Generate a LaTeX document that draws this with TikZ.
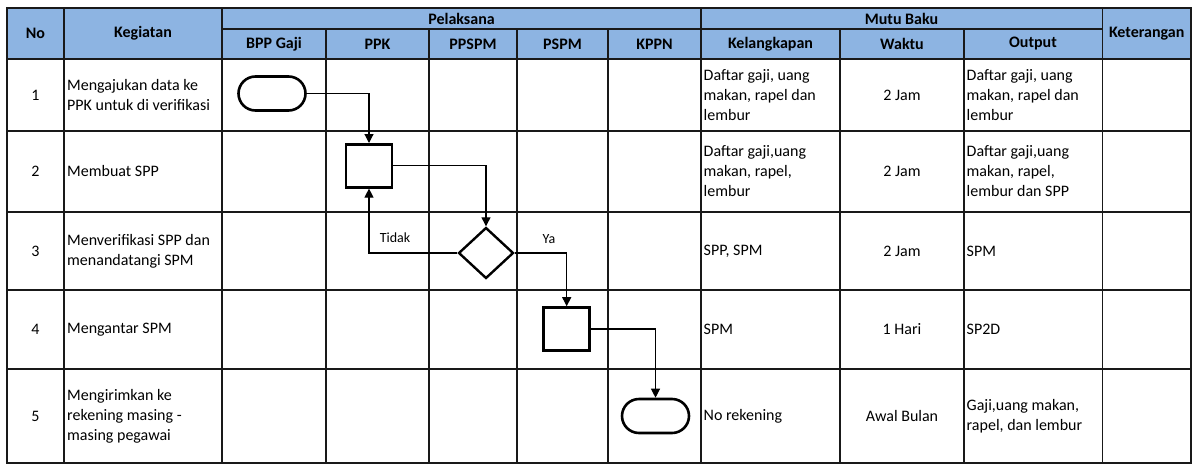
\documentclass[tikz,border=0pt]{standalone}
\usepackage{fontspec}
\setmainfont{Carlito}
\usetikzlibrary{shapes.geometric,arrows.meta}
\definecolor{hdrblue}{RGB}{141,180,226}
\begin{document}
\begin{tikzpicture}[x=1pt,y=-1pt,
  every node/.style={font=\fontsize{16pt}{20pt}\selectfont, inner sep=0pt},
  hdr/.style={font=\fontsize{16pt}{20pt}\selectfont\bfseries},
  txt/.style={anchor=west, align=left},
  ctr/.style={align=center},
  gridline/.style={line width=1.3pt, draw=black!90},
  term/.style={draw, line width=2.6pt, rounded corners=17pt, minimum width=67pt, minimum height=34pt},
  proc/.style={draw, line width=2.6pt, minimum width=46pt, minimum height=43pt},
  dec/.style={draw, diamond, line width=2.4pt, minimum width=55pt, minimum height=51pt},
  flow/.style={line width=1.2pt, -{Triangle[length=9pt,width=9pt]}},
  lbl/.style={font=\fontsize{14pt}{16pt}\selectfont}
]
\useasboundingbox (0,0) rectangle (1193,466);
% header background
\fill[hdrblue] (7,8) rectangle (1191,59);
% grid
\draw[gridline] (7,8) rectangle (1191,463);
\foreach \x in {64,222,701,1102.5} \draw[gridline] (\x,8) -- (\x,463);
\foreach \x in {326,429,517,608,840,964} \draw[gridline] (\x,29) -- (\x,463);
\draw[gridline] (222,29) -- (1102.5,29);
\foreach \y in {59,131,212,290,369} \draw[gridline] (7,\y) -- (1191,\y);

% header texts
\node[hdr] (hNo) at (35.5,33.5) {No};
\node[hdr] (hKeg) at (143,33.5) {Kegiatan};
\node[hdr] (hPel) at (461.5,18.5) {Pelaksana};
\node[hdr] (hMutu) at (901.5,18.5) {Mutu Baku};
\node[hdr] (hKet) at (1146.7,33.5) {Keterangan};
\node[hdr] (hBPP) at (274,44) {BPP Gaji};
\node[hdr] (hPPK) at (377.5,44) {PPK};
\node[hdr] (hPPSPM) at (473,44) {PPSPM};
\node[hdr] (hPSPM) at (562.5,44) {PSPM};
\node[hdr] (hKPPN) at (654.5,44) {KPPN};
\node[hdr] (hKel) at (770.5,44) {Kelangkapan};
\node[hdr] (hWak) at (902,44) {Waktu};
\node[hdr] (hOut) at (1033,44) {Output};

% row 1
\node (n1) at (35.5,95) {1};
\node[txt] (k1) at (67,95) {Mengajukan data ke\\PPK untuk di verifikasi};
\node[txt] (l1) at (703.5,95) {Daftar gaji, uang\\makan, rapel dan\\lembur};
\node (w1) at (902,95) {2 Jam};
\node[txt] (o1) at (966.5,95) {Daftar gaji, uang\\makan, rapel dan\\lembur};
% row 2
\node (n2) at (35.5,171.5) {2};
\node[txt] (k2) at (67,171.5) {Membuat SPP};
\node[txt] (l2) at (703.5,171.5) {Daftar gaji,uang\\makan, rapel,\\lembur};
\node (w2) at (902,171.5) {2 Jam};
\node[txt] (o2) at (966.5,171.5) {Daftar gaji,uang\\makan, rapel,\\lembur dan SPP};
% row 3
\node (n3) at (35.5,251) {3};
\node[txt] (k3) at (67,251) {Menverifikasi SPP dan\\menandatangi SPM};
\node[txt] (l3) at (703.5,251) {SPP, SPM};
\node (w3) at (902,251) {2 Jam};
\node[txt] (o3) at (966.5,251) {SPM};
% row 4
\node (n4) at (35.5,329.5) {4};
\node[txt] (k4) at (67,329.5) {Mengantar SPM};
\node[txt] (l4) at (703.5,329.5) {SPM};
\node (w4) at (902,329.5) {1 Hari};
\node[txt] (o4) at (966.5,329.5) {SP2D};
% row 5
\node (n5) at (35.5,416) {5};
\node[txt] (k5) at (67,416) {Mengirimkan ke\\rekening masing -\\masing pegawai};
\node[txt] (l5) at (703.5,416) {No rekening};
\node (w5) at (902,416) {Awal Bulan};
\node[txt] (o5) at (966.5,416) {Gaji,uang makan,\\rapel, dan lembur};

% flow shapes
\node[term] (t1) at (272,93.5) {};
\node[proc] (p2) at (369,165.8) {};
\node[dec] (d3) at (486,253) {};
\node[proc] (p4) at (566.7,329) {};
\node[term] (t5) at (655.5,416) {};

% connectors
\draw[flow] (t1.east) -| (p2.north);
\draw[flow] (p2.east) -| (d3.north);
\draw[flow] (d3.west) -| (p2.south);
\draw[flow] (d3.east) -| (p4.north);
\draw[flow] (p4.east) -| (t5.north);
\node[lbl] (lTidak) at (395,238) {Tidak};
\node[lbl] (lYa) at (549,239) {Ya};
\end{tikzpicture}
\end{document}
